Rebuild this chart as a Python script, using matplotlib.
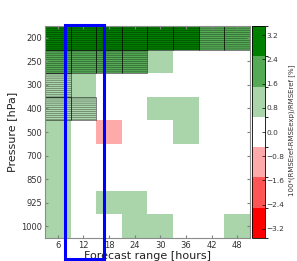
import numpy as np
import matplotlib
matplotlib.use('Agg')
import matplotlib.pyplot as plt
from matplotlib.colors import ListedColormap, BoundaryNorm
from matplotlib.patches import Rectangle

# forecast ranges (columns) and pressure levels (rows)
lead_hours = [6, 12, 18, 24, 30, 36, 42, 48]
levels_hpa = [200, 250, 300, 400, 500, 700, 850, 925, 1000]

# 100*(RMSEref-RMSEexp)/RMSEref [%]
scores = [
    [3.1, 3.0, 2.9, 2.8, 2.7, 2.6, 2.2, 2.0],   # 200
    [2.1, 2.0, 1.9, 1.8, 1.2, 0.3, 0.2, 0.1],   # 250
    [1.3, 0.9, 0.2, 0.1, 0.3, 0.2, 0.1, 0.0],   # 300
    [1.4, 1.1, 0.1, 0.2, 0.8, 0.7, 0.3, 0.1],   # 400
    [0.9, 0.2, -0.9, 0.1, 0.3, 0.6, 0.2, 0.1],  # 500
    [0.8, 0.3, 0.0, 0.2, 0.1, 0.2, 0.0, 0.1],   # 700
    [0.7, 0.2, 0.1, 0.3, 0.2, 0.1, 0.0, 0.0],   # 850
    [0.9, 0.4, 0.6, 0.7, 0.3, 0.2, 0.1, 0.2],   # 925
    [1.0, 0.4, 0.3, 0.6, 0.7, 0.3, 0.2, 0.6],   # 1000
]
# significant cells (hatched)
signif = [
    [1, 1, 1, 1, 1, 1, 1, 1],
    [1, 1, 1, 1, 0, 0, 0, 0],
    [1, 0, 0, 0, 0, 0, 0, 0],
    [1, 1, 0, 0, 0, 0, 0, 0],
    [0, 0, 0, 0, 0, 0, 0, 0],
    [0, 0, 0, 0, 0, 0, 0, 0],
    [0, 0, 0, 0, 0, 0, 0, 0],
    [0, 0, 0, 0, 0, 0, 0, 0],
    [0, 0, 0, 0, 0, 0, 0, 0],
]
bounds = [-3.5, -2.5, -1.5, -0.5, 0.5, 1.5, 2.5, 3.5]
bin_colors = ['#ff0000', '#ff5555', '#ffaaaa', '#ffffff', '#aad4aa', '#55aa55', '#008000']
cbar_ticks = [-3.2, -2.4, -1.6, -0.8, 0.0, 0.8, 1.6, 2.4, 3.2]

plt.rcParams['hatch.linewidth'] = 0.4
txt = '#333333'

fig = plt.figure(figsize=(2.97, 2.61), dpi=100)
ax = fig.add_axes([0.1515, 0.0881, 0.690, 0.812])

data = np.array(scores)
dx = lead_hours[1] - lead_hours[0]
xedges = np.append(np.array(lead_hours) - dx/2, lead_hours[-1] + dx/2)
yedges = np.arange(len(levels_hpa) + 1)

cmap = ListedColormap(bin_colors)
norm = BoundaryNorm(bounds, cmap.N)
mesh = ax.pcolormesh(xedges, yedges, data, cmap=cmap, norm=norm)

# hatching for significant cells
for i in range(len(levels_hpa)):
    for j in range(len(lead_hours)):
        if signif[i][j]:
            ax.add_patch(Rectangle((xedges[j], yedges[i]), dx, 1, fill=False,
                                   hatch='--------', edgecolor=(0, 0, 0, 0.55), lw=0.6))

ax.set_xlim(xedges[0], xedges[-1])
ax.set_ylim(yedges[-1], yedges[0])
ax.set_xticks(lead_hours)
ax.set_xticklabels([str(h) for h in lead_hours])
ax.set_yticks(yedges[:-1] + 0.5)
ax.set_yticklabels([str(p) for p in levels_hpa])
ax.tick_params(labelsize=6, colors='0.5', labelcolor=txt, direction='in', length=2,
               top=True, right=True, pad=2)
for s in ax.spines.values():
    s.set_color('0.55')
    s.set_linewidth(0.8)
ax.set_xlabel('Forecast range [hours]', fontsize=8, color='#222222', labelpad=1)
ax.set_ylabel('Pressure [hPa]', fontsize=8, color='#222222', labelpad=3)

cax = fig.add_axes([0.8485, 0.0881, 0.0438, 0.812])
cb = fig.colorbar(mesh, cax=cax, ticks=cbar_ticks)
cb.ax.tick_params(labelsize=5.3, labelcolor=txt, direction='in', length=2, width=0.5, pad=1)
cb.outline.set_linewidth(0.6)
fig.text(291.8/297, 0.5, '100*(RMSEref-RMSEexp)/RMSEref [%]', rotation=90,
         fontsize=5, color=txt, ha='center', va='center')

# highlight box around the 12 h column
fig.patches.append(Rectangle((65.3/297, 1 - 259/261), (103.7-65.3)/297, (259-25.3)/261,
                             transform=fig.transFigure, fill=False, edgecolor='blue',
                             lw=2.2, zorder=10))

fig.savefig('out.png', dpi=100)
